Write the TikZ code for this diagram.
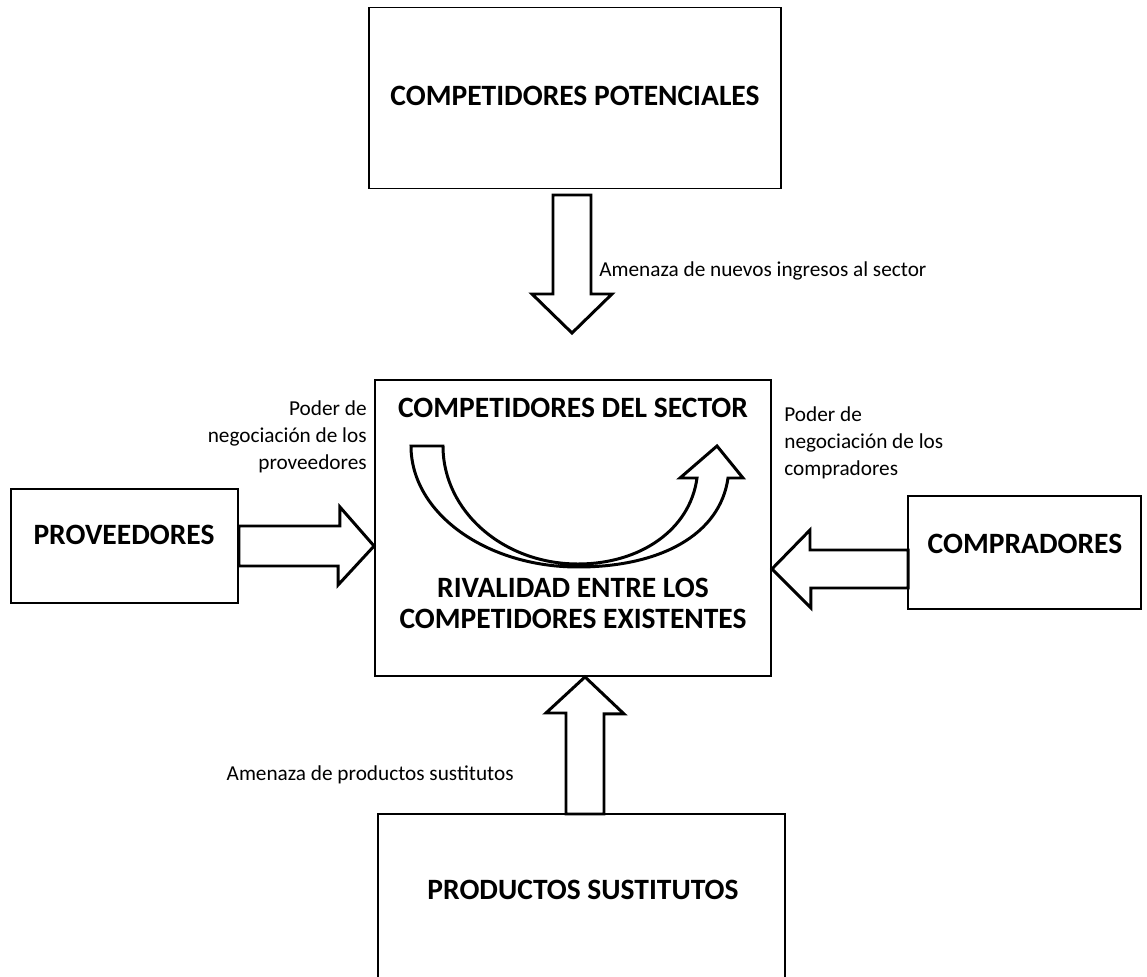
\documentclass[tikz,border=0pt]{standalone}
\usepackage{fontspec}
\setmainfont{Carlito}
\usetikzlibrary{calc}
\begin{document}
\begin{tikzpicture}[x=0.02cm,y=-0.02cm]
\tikzstyle{caja} = [draw=black,line width=1.1pt,inner sep=0pt] %box
\tikzstyle{titulo} = [font=\fontsize{16.8}{17.6}\selectfont\bfseries,align=center] %box title
\tikzstyle{etiq} = [font=\fontsize{12.1}{15.3}\selectfont,inner sep=0pt] %label
\tikzstyle{flecha} = [draw=black,line width=1.7pt,fill=white,line join=miter] %block arrow
\useasboundingbox (0,0) rectangle (1147,977);
\clip (0,0) rectangle (1147,977);
\node[caja,minimum width=8.24cm,minimum height=3.62cm](pot)at(575,98){};
\node[caja,minimum width=7.92cm,minimum height=5.92cm](sector)at(573,528){};
\node[caja,minimum width=4.54cm,minimum height=2.28cm](prov)at(124.5,546){};
\node[caja,minimum width=4.66cm,minimum height=2.26cm](comp)at(1024.5,552.5){};
\node[caja,minimum width=8.14cm,minimum height=3.72cm](prod)at(581.5,907){};
\node[titulo](potT)at(575,96){COMPETIDORES POTENCIALES};
\node[titulo](secT)at(573,408){COMPETIDORES DEL SECTOR};
\node[titulo](rivT)at(573,603){RIVALIDAD ENTRE LOS\\COMPETIDORES EXISTENTES};
\node[titulo](provT)at(124,535){PROVEEDORES};
\node[titulo](compT)at(1025,544){COMPRADORES};
\node[titulo](prodT)at(583,890){PRODUCTOS SUSTITUTOS};
\node[etiq,anchor=west](lN)at(599,271){Amenaza de nuevos ingresos al sector};
\node[etiq,align=right,anchor=east](lP)at(367,437){Poder de\\negociación de los\\proveedores};
\node[etiq,align=left,anchor=west](lC)at(784,443){Poder de\\negociación de los\\compradores};
\node[etiq,anchor=east](lS)at(514,775){Amenaza de productos sustitutos};
\coordinate(dn)at(572,195);
\coordinate(rt)at(908,569);
\coordinate(up)at(585,814);
% forces
\draw[flecha] ($(dn)+(-19,0)$) -- ++(0,99) -- ++(-21,0) -- ($(dn)+(0,138)$) -- ++(40,-39) -- ++(-21,0) -- ($(dn)+(19,0)$) -- cycle;
\draw[flecha] ($(prov.east)+(0,-20)$) -- ++(101,0) -- ++(0,-19) -- (sector.west |- prov.east) -- ++(-36,39) -- ++(0,-19) -- ($(prov.east)+(0,20)$) -- cycle;
\draw[flecha] ($(rt)+(0,-19)$) -- ++(-98,0) -- ++(0,-20) -- (sector.east |- rt) -- ++(39,39) -- ++(0,-20) -- ($(rt)+(0,19)$) -- cycle;
\draw[flecha] ($(up)+(-19,0)$) -- ++(0,-101) -- ++(-20,0) -- (sector.south -| up) -- ++(39,37) -- ++(-20,0) -- ($(up)+(19,0)$) -- cycle;
% rivalry
\draw[flecha] (411,446) -- (443,446) .. controls (443,511) and (503,564) .. (578,564) .. controls (640,564) and (690,530) .. (697,478) -- (680,478) -- (717,446) -- (743,478) -- (728,478) .. controls (720,535) and (660,567) .. (578,567) .. controls (486,567) and (411,513) .. (411,446) -- cycle;
\end{tikzpicture}
\end{document}
